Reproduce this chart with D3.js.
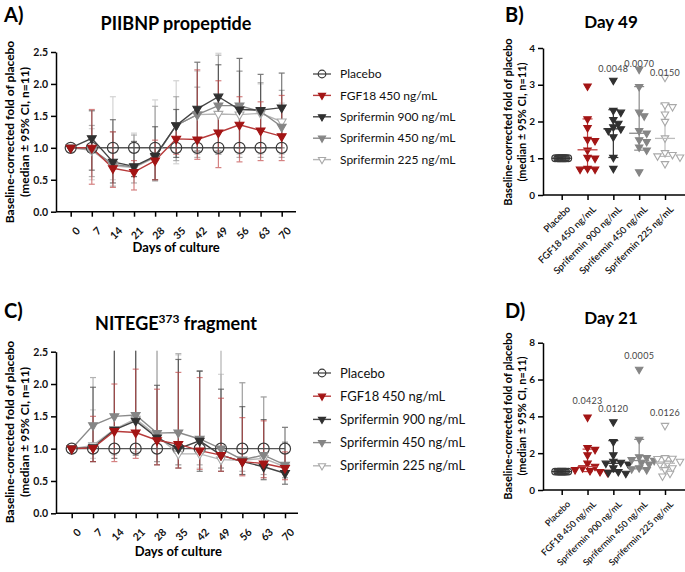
<!DOCTYPE html>
<html><head><meta charset="utf-8">
<script src="https://cdn.jsdelivr.net/npm/d3@7"></script>
<style>body{margin:0;background:#fff;} svg{display:block;font-family:Lato,'Open Sans',sans-serif;}</style>
</head><body><svg id="c" width="685" height="572"></svg>
<script>
// ---------------- DATA ----------------
const days = [0,7,14,21,28,35,42,49,56,63,70];
const seriesNames = ["Placebo","FGF18 450 ng/mL","Sprifermin 900 ng/mL","Sprifermin 450 ng/mL","Sprifermin 225 ng/mL"];
const yTicksLine = [0,0.5,1.0,1.5,2.0,2.5];

// Panel A – PIIBNP propeptide (median, 95% CI)
const aPlacebo = [1,1,1,1,1,1,1,1,1,1,1];
const aMedFGF = [1.0,1.0,0.68,0.62,0.80,1.14,1.13,1.24,1.36,1.27,1.18];
const aLoFGF  = [1.0,0.43,0.38,0.34,0.50,0.90,0.82,0.69,0.78,0.80,0.80];
const aHiFGF  = [1.0,1.60,1.25,0.80,1.12,1.35,2.22,2.05,1.80,1.72,1.82];
const aMed900 = [1.0,1.15,0.78,0.71,0.87,1.35,1.61,1.80,1.60,1.59,1.63];
const aLo900  = [1.0,0.65,0.45,0.55,0.50,0.85,0.95,0.95,1.00,1.00,1.00];
const aHi900  = [1.0,1.58,1.44,1.10,1.33,1.60,2.34,2.30,2.40,2.15,2.17];
const aMed450 = [1.0,0.98,0.74,0.70,0.86,1.35,1.52,1.66,1.66,1.57,1.33];
const aLo450  = [1.0,0.55,0.40,0.45,0.48,0.80,0.85,0.90,0.85,0.85,0.85];
const aHi450  = [1.0,1.35,1.25,1.20,1.65,1.80,1.95,2.45,2.20,2.02,1.90];
const aMed225 = [1.0,0.96,0.72,0.69,0.85,1.35,1.52,1.53,1.52,1.54,1.41];
const aLo225  = [1.0,0.50,0.50,0.55,0.50,0.75,0.90,0.90,0.90,0.90,0.90];
const aHi225  = [1.0,1.30,1.80,1.23,1.75,2.05,2.20,2.48,2.20,2.00,1.70];

// Panel C – NITEGE373 fragment
const cPlacebo = [1,1,1,1,1,1,1,1,1,1,1];
const cMedFGF = [1.0,1.01,1.27,1.25,1.13,1.07,0.97,0.90,0.80,0.77,0.70];
const cLoFGF  = [1.0,0.80,0.80,0.85,0.75,0.70,0.68,0.65,0.58,0.55,0.52];
const cHiFGF  = [1.0,1.50,2.00,2.23,1.92,2.18,2.10,1.78,1.48,1.43,0.95];
const cMed900 = [1.0,1.02,1.29,1.43,1.17,1.00,1.12,0.90,0.80,0.72,0.62];
const cLo900  = [1.0,0.80,0.85,0.90,0.75,0.70,0.65,0.65,0.60,0.52,0.45];
const cHi900  = [1.0,1.95,2.80,2.80,1.98,2.38,2.20,1.92,1.65,1.45,1.33];
const cMed450 = [1.0,1.36,1.50,1.52,1.24,1.25,1.15,1.00,0.83,0.90,0.75];
const cLo450  = [1.0,0.80,1.00,1.00,0.80,0.75,0.75,0.70,0.65,0.60,0.55];
const cHi450  = [1.0,2.10,2.80,2.80,2.80,2.47,2.20,2.80,2.02,1.80,1.10];
const cMed225 = [1.0,1.05,1.30,1.46,1.20,0.92,0.92,0.83,0.82,0.85,0.72];
const cLo225  = [1.0,0.85,0.90,0.95,0.80,0.75,0.70,0.70,0.60,0.55,0.55];
const cHi225  = [1.0,1.60,2.80,2.80,2.80,2.45,2.20,2.15,2.02,1.80,1.10];

// Panel B – Day 49 individual values
const bPlacebo = [1,1,1,1,1,1,1,1,1,1,1];
const bFGF = [2.96,2.07,1.83,1.51,1.48,1.22,1.02,1.0,0.72,0.70,0.70];
const b900 = [3.12,2.30,2.25,2.05,1.95,1.85,1.80,1.75,1.58,1.02,0.72];
const b450 = [3.42,2.95,2.25,2.15,1.75,1.68,1.50,1.45,1.30,1.22,0.63];
const b225 = [3.20,2.45,2.40,2.20,2.00,1.55,1.15,1.10,1.06,1.03,0.85];
const bMedian = [1.0,1.23,1.80,1.68,1.54];
const bLow    = [1.0,0.72,1.02,1.22,1.05];
const bHigh   = [1.0,2.07,2.32,2.95,2.48];
const bPText  = ["","","0.0048","0.0070","0.0150"];
const bPY     = [0,0,3.35,3.49,3.24];

// Panel D – Day 21 individual values
const dPlacebo = [1,1,1,1,1,1,1,1,1,1,1];
const dFGF = [3.95,2.30,2.20,1.90,1.45,1.28,1.20,1.10,1.05,1.00,0.95];
const d900 = [3.70,2.62,1.90,1.55,1.50,1.45,1.40,1.20,1.00,0.95,0.90];
const d450 = [6.55,2.75,1.80,1.75,1.65,1.60,1.50,1.40,1.20,1.15,1.10];
const d225 = [3.50,1.75,1.72,1.70,1.55,1.45,1.40,1.20,1.10,0.90,0.75];
const dMedian = [1.0,1.27,1.45,1.60,1.45];
const dLow    = [1.0,1.00,1.00,1.15,1.10];
const dHigh   = [1.0,2.22,2.68,2.75,1.77];
const dPText  = ["","0.0423","0.0120","0.0005","0.0126"];
const dPY     = [0,4.67,4.24,7.12,4.02];

// ---------------- STYLE ----------------
const styles = [
  {stroke:"#3a3a3a", fill:"none", shape:"circle", line:"#555", bar:"#444"},
  {stroke:"#a31515", fill:"#a31515", shape:"tri", line:"#b73a3a", bar:"#c04040"},
  {stroke:"#303030", fill:"#303030", shape:"tri", line:"#444", bar:"#333"},
  {stroke:"#858585", fill:"#858585", shape:"tri", line:"#8a8a8a", bar:"#8a8a8a"},
  {stroke:"#a8a8a8", fill:"#fff", shape:"tri", line:"#b5b5b5", bar:"#bdbdbd"}
];

const svg = d3.select("#c");

function marker(g, st, x, y, size){
  if(st.shape==="circle"){
    g.append("circle").attr("cx",x).attr("cy",y).attr("r",size.r)
      .attr("fill",st.fill).attr("stroke",st.stroke).attr("stroke-width",1.2);
  } else {
    g.append("path").attr("d", d3.symbol(d3.symbolTriangle, size.t)())
      .attr("transform",`translate(${x},${y}) rotate(180)`)
      .attr("fill",st.fill).attr("stroke",st.stroke).attr("stroke-width",1.1);
  }
}

function yLabel(x1, x2, yc, fs){
  svg.append("text").attr("transform",`translate(${x1},${yc}) rotate(-90)`)
    .attr("text-anchor","middle").attr("font-size",fs).attr("font-weight","bold").text("Baseline-corrected fold of placebo");
  svg.append("text").attr("transform",`translate(${x2},${yc}) rotate(-90)`)
    .attr("text-anchor","middle").attr("font-size",fs).attr("font-weight","bold").text("(median \u00B1 95% CI, n=11)");
}

function styleAxis(g){
  g.selectAll("path,line").attr("stroke","#000").attr("stroke-width",1.5);
  g.selectAll("text").attr("font-family","Lato,'Open Sans',sans-serif").attr("font-weight","bold").attr("fill","#111");
}

// ---------- line panel ----------
function linePanel(opt){
  const x = d3.scaleLinear().domain([0,70]).range(opt.xr);
  const y = d3.scaleLinear().domain([0,2.5]).range(opt.yr);
  const id = "clip"+opt.key;
  svg.append("clipPath").attr("id",id).append("rect")
    .attr("x",opt.axisX).attr("y",opt.yr[1]-1).attr("width",260).attr("height",opt.yr[0]-opt.yr[1]+2);
  const ya = svg.append("g").attr("transform",`translate(${opt.axisX},0)`)
    .call(d3.axisLeft(y).tickValues(yTicksLine).tickFormat(d3.format(".1f")).tickSize(5).tickSizeOuter(0));
  ya.selectAll("text").attr("font-size",10.5);
  styleAxis(ya);
  const xa = svg.append("g").attr("transform",`translate(0,${opt.yr[0]})`)
    .call(d3.axisBottom(x).tickValues(days).tickSize(5).tickSizeOuter(0));
  xa.select(".domain").remove();
  xa.append("line").attr("x1",opt.axisX).attr("x2",opt.axisEnd);
  xa.selectAll(".tick text").attr("font-size",10.5).attr("text-anchor","end")
    .attr("dx",0).attr("dy",0).attr("transform","translate(4,14) rotate(-45)");
  styleAxis(xa);
  svg.append("text").attr("x",(opt.xr[0]+opt.xr[1])/2).attr("y",opt.xlabY).attr("text-anchor","middle")
    .attr("font-size",13).attr("font-weight","bold").text("Days of culture");

  const plot = svg.append("g").attr("clip-path",`url(#${id})`);
  const order = [4,3,2,1,0];
  order.forEach(si=>{
    const s = opt.series[si]; if(!s.lo) return;
    const st = styles[si];
    const g = plot.append("g").attr("opacity",0.65);
    days.forEach((d,i)=>{
      if(i===0) return;
      const xx = x(d);
      g.append("line").attr("x1",xx).attr("x2",xx).attr("y1",y(s.lo[i])).attr("y2",y(s.hi[i]))
        .attr("stroke",st.bar).attr("stroke-width",1.2);
      [s.lo[i],s.hi[i]].forEach(v=>{
        g.append("line").attr("x1",xx-3).attr("x2",xx+3).attr("y1",y(v)).attr("y2",y(v))
          .attr("stroke",st.bar).attr("stroke-width",1.2);
      });
    });
  });
  const ln = d3.line().x((d,i)=>x(days[i])).y(d=>y(d));
  [0,4,3,2,1].forEach(si=>{
    plot.append("path").attr("d",ln(opt.series[si].med)).attr("fill","none")
      .attr("stroke",styles[si].line).attr("stroke-width",1.4);
  });
  [0,4,3,2,1].forEach(si=>{
    opt.series[si].med.forEach((v,i)=> marker(plot, styles[si], x(days[i]), y(v), {r:5.5,t:34}));
  });
  opt.title();
  seriesNames.forEach((n,i)=>{
    const yy = opt.legY + i*opt.legStep;
    svg.append("line").attr("x1",opt.legX).attr("x2",opt.legX+18).attr("y1",yy).attr("y2",yy)
      .attr("stroke",styles[i].line).attr("stroke-width",1.4);
    marker(svg, styles[i], opt.legX+9, yy, {r:3.8,t:22});
    svg.append("text").attr("x",opt.legX+27).attr("y",yy).attr("dy","0.35em")
      .attr("font-size",opt.legFs).attr("fill","#111").text(n);
  });
}

// ---------- scatter panel ----------
function swarm(vals, y, minD, step){
  const placed=[];
  return vals.map(v=>{
    const yy=y(v);
    for(let k=0;k<60;k++){
      const cands = k===0?[0]:[k,-k];
      for(const s of cands){
        const dx=s*step;
        if(placed.every(p=>(p.x-dx)**2+(p.y-yy)**2>=minD*minD)){placed.push({x:dx,y:yy});return dx;}
      }
    }
    return 0;
  });
}

function scatterPanel(opt){
  const x = d3.scalePoint().domain(seriesNames).range([561.7,665]);
  const y = d3.scaleLinear().domain([0,opt.ymax]).range(opt.yr);
  const ya = svg.append("g").attr("transform",`translate(543,0)`)
    .call(d3.axisLeft(y).tickValues(opt.ticks).tickFormat(d3.format("d")).tickSize(5).tickSizeOuter(0));
  ya.selectAll("text").attr("font-size",10);
  styleAxis(ya);
  const xa = svg.append("g").attr("transform",`translate(0,${opt.yr[0]})`)
    .call(d3.axisBottom(x).tickSize(5).tickSizeOuter(0));
  xa.select(".domain").remove();
  xa.append("line").attr("x1",543).attr("x2",685);
  xa.selectAll(".tick text").attr("font-size",opt.xfs).attr("text-anchor","end")
    .attr("dx",0).attr("dy",0).attr("transform","translate(3,9) rotate(-45)");
  styleAxis(xa);
  xa.selectAll(".tick text").attr("font-weight","600");

  opt.groups.forEach((vals,gi)=>{
    const st = styles[gi];
    const cx = x(seriesNames[gi]);
    const isP = gi===0;
    const offs = swarm(vals, y, isP?1.1:6, isP?1.1:2.5);
    if(!isP){
      const g = svg.append("g");
      g.append("line").attr("x1",cx).attr("x2",cx).attr("y1",y(opt.low[gi])).attr("y2",y(opt.high[gi]))
        .attr("stroke",st.bar).attr("stroke-width",1.2);
      [opt.low[gi],opt.high[gi]].forEach(v=>g.append("line").attr("x1",cx-5).attr("x2",cx+5)
        .attr("y1",y(v)).attr("y2",y(v)).attr("stroke",st.bar).attr("stroke-width",1.2));
    }
    vals.forEach((v,i)=> marker(svg, st, cx+offs[i], y(v), {r:3.3,t:24}));
    svg.append("line").attr("x1",cx-10).attr("x2",cx+10).attr("y1",y(opt.median[gi])).attr("y2",y(opt.median[gi]))
      .attr("stroke",isP?"#333":st.bar).attr("stroke-width",1.3);
    if(opt.pText[gi]) svg.append("text").attr("x",cx).attr("y",y(opt.pY[gi])).attr("text-anchor","middle")
      .attr("font-size",9).attr("fill","#444").attr("letter-spacing",0.3).text(opt.pText[gi]);
  });
  svg.append("text").attr("x",611).attr("y",opt.titleY).attr("text-anchor","middle")
    .attr("font-size",17).attr("font-weight","bold").text(opt.title);
}

// ---------------- DRAW ----------------
[["A)",4,22],["B)",505,22],["C)",4,318],["D)",505,318]].forEach(([t,px,py])=>
  svg.append("text").attr("x",px).attr("y",py).attr("font-size",20).attr("font-weight","bold").text(t));

yLabel(14, 29, 132, 12);
yLabel(14, 29, 432, 12);
yLabel(512, 526, 122, 11);
yLabel(512, 526, 416, 11);

linePanel({key:"A", xr:[70.7,281.7], yr:[211.7,52], axisX:56, axisEnd:296, xlabY:252,
  series:[{med:aPlacebo},{med:aMedFGF,lo:aLoFGF,hi:aHiFGF},{med:aMed900,lo:aLo900,hi:aHi900},
          {med:aMed450,lo:aLo450,hi:aHi450},{med:aMed225,lo:aLo225,hi:aHi225}],
  legX:313, legY:74, legStep:21.4, legFs:12,
  title:()=>svg.append("text").attr("x",176).attr("y",30).attr("text-anchor","middle")
    .attr("font-size",18).attr("font-weight","bold").text("PIIBNP propeptide")
});

linePanel({key:"C", xr:[71.7,285], yr:[513.3,351.7], axisX:56, axisEnd:298, xlabY:556,
  series:[{med:cPlacebo},{med:cMedFGF,lo:cLoFGF,hi:cHiFGF},{med:cMed900,lo:cLo900,hi:cHi900},
          {med:cMed450,lo:cLo450,hi:cHi450},{med:cMed225,lo:cLo225,hi:cHi225}],
  legX:313, legY:373, legStep:23.2, legFs:13,
  title:()=>{
    const t = svg.append("text").attr("x",176).attr("y",330).attr("text-anchor","middle")
      .attr("font-size",18).attr("font-weight","bold");
    t.append("tspan").text("NITEGE");
    t.append("tspan").attr("font-size",12).attr("dy",-7).text("373");
    t.append("tspan").attr("dy",7).text(" fragment");
  }
});

scatterPanel({yr:[195,48], ymax:4, ticks:[0,1,2,3,4], groups:[bPlacebo,bFGF,b900,b450,b225], xfs:9.5,
  median:bMedian, low:bLow, high:bHigh, pText:bPText, pY:bPY, title:"Day 49", titleY:28});
scatterPanel({yr:[490,342.7], ymax:8, ticks:[0,2,4,6,8], groups:[dPlacebo,dFGF,d900,d450,d225], xfs:9,
  median:dMedian, low:dLow, high:dHigh, pText:dPText, pY:dPY, title:"Day 21", titleY:324});
</script></body></html>
